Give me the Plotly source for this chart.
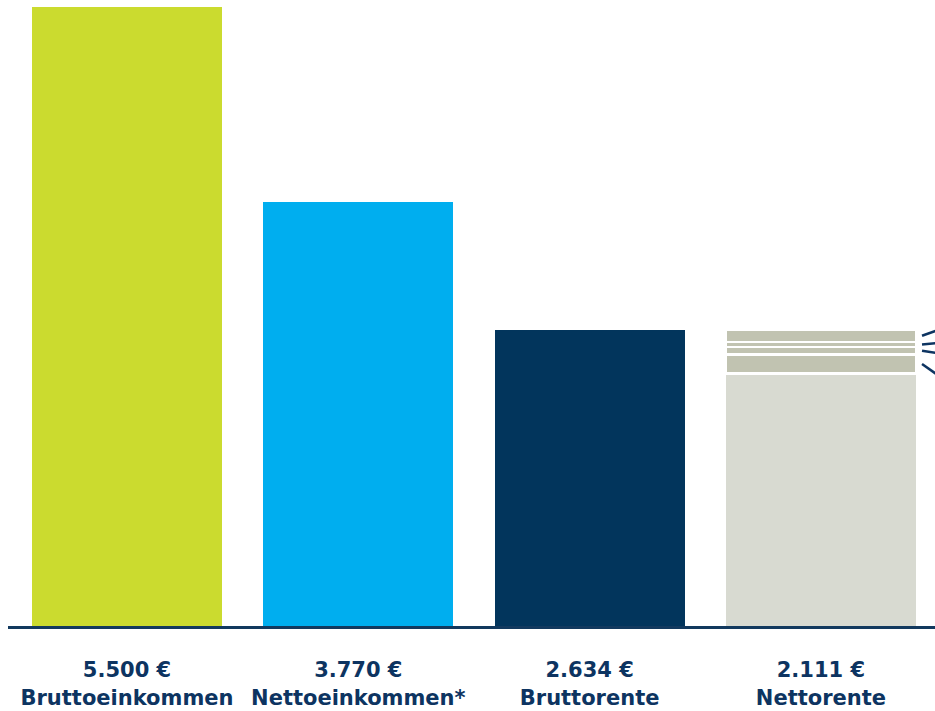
import plotly.graph_objects as go

# --- data ---
categories = ["Bruttoeinkommen", "Nettoeinkommen*", "Bruttorente", "Nettorente"]
amounts = [5500, 3770, 2634, 2111]          # labelled amounts in €
bar_colors = ["#cbdb2f", "#00aeef", "#02355c", "#d8dad1"]
# bar heights as drawn (the last bar shows Bruttorente split into the net part and deductions)
base_heights = [5500, 3770, 2634, 2245]
deduction_segments = [166, 69, 44, 110]     # stacked on top of the last bar
deduction_color = "#c1c3b1"
navy = "#0d3461"

def fmt(v):
    return f"{v:,}".replace(",", ".") + " €"

x_pos = list(range(len(categories)))
tick_text = [f"<b>{fmt(a)}</b><br><b>{c}</b>" for a, c in zip(amounts, categories)]

fig = go.Figure()
fig.add_trace(go.Bar(
    x=x_pos, y=base_heights,
    marker=dict(color=bar_colors, line=dict(width=0)),
    hoverinfo="skip", showlegend=False,
))
seg_mids = []
running = base_heights[-1]
for seg in deduction_segments:
    fig.add_trace(go.Bar(
        x=[x_pos[-1]], y=[seg],
        marker=dict(color=deduction_color, line=dict(color="white", width=2.5)),
        hoverinfo="skip", showlegend=False,
    ))
    seg_mids.append(running + seg / 2)
    running += seg

# callout strokes to the right of the last bar (fanning out), bottom segment first
fan_offsets = [-110, -25, 15, 55]
for mid, off in zip(seg_mids, fan_offsets):
    fig.add_shape(type="line", xref="paper", yref="y",
                  x0=0.986, x1=1.005, y0=mid, y1=mid + off,
                  line=dict(color=navy, width=2.5))

fig.update_layout(
    width=935, height=711,
    margin=dict(l=8, r=0, t=7, b=85),
    paper_bgcolor="white", plot_bgcolor="white",
    barmode="stack", bargap=0.179,
    font=dict(family="DejaVu Sans", color=navy),
    xaxis=dict(
        range=[-0.5145, 3.4933],
        tickmode="array", tickvals=x_pos, ticktext=tick_text,
        tickfont=dict(size=21, color=navy, family="DejaVu Sans"),
        showline=True, linecolor="#12395e", linewidth=3,
        showgrid=False, zeroline=False, ticks="",
        ticklabelstandoff=23,
    ),
    yaxis=dict(range=[0, 5500], visible=False, showgrid=False, zeroline=False),
)

fig.write_html("out.html", config={"displayModeBar": False},
               post_script="document.body.style.margin='0';")
